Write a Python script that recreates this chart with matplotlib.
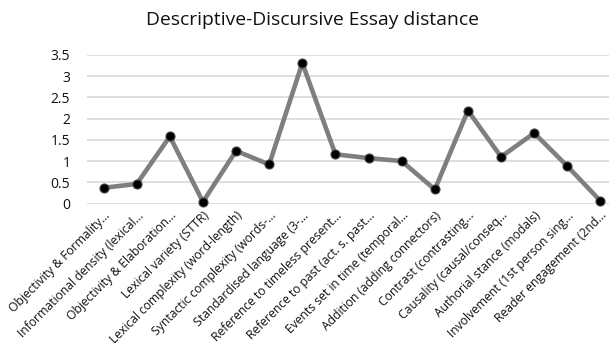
import matplotlib
matplotlib.use("Agg")
import matplotlib.pyplot as plt

categories = [
    "Objectivity & Formality...",
    "Informational density (lexical...",
    "Objectivity & Elaboration...",
    "Lexical variety (STTR)",
    "Lexical complexity (word-length)",
    "Syntactic complexity (words-...",
    "Standardised language (3-...",
    "Reference to timeless present...",
    "Reference to past (act. s. past...",
    "Events set in time (temporal...",
    "Addition (adding connectors)",
    "Contrast (contrasting...",
    "Causality (causal/conseq...",
    "Authorial stance (modals)",
    "Involvement (1st person sing...",
    "Reader engagement (2nd...",
]
values = [0.37, 0.46, 1.58, 0.04, 1.24, 0.92, 3.31, 1.16, 1.07, 1.0,
          0.33, 2.19, 1.10, 1.66, 0.88, 0.06]
yticks = [0, 0.5, 1, 1.5, 2, 2.5, 3, 3.5]
ytick_labels = ["0", "0.5", "1", "1.5", "2", "2.5", "3", "3.5"]
title = "Descriptive-Discursive Essay distance"

plt.rcParams['font.family'] = ['Open Sans', 'DejaVu Sans']

fig = plt.figure(figsize=(6.09, 3.57), dpi=100)
ax = fig.add_axes([87/609, 1 - 203.5/357, (617-87)/609, (203.5-55)/357])

x = list(range(len(categories)))
ax.plot(x, values, color="#7f7f7f", lw=3.3, marker="o", markersize=6.5,
        markerfacecolor="black", markeredgecolor="#444444", markeredgewidth=0.8,
        zorder=3, clip_on=False)

ax.set_xlim(-0.5, len(categories) - 0.5)
ax.set_ylim(0, 3.5)
ax.set_yticks(yticks)
ax.set_yticklabels(ytick_labels, fontsize=10, color="#111111")
ax.set_xticks(x)
ax.set_xticklabels(categories, rotation=45, ha="right", rotation_mode="anchor",
                   fontsize=8.7, color="#111111")
ax.tick_params(axis="both", length=0)
ax.tick_params(axis="y", pad=12)
ax.tick_params(axis="x", pad=4)
ax.grid(axis="y", color="#d9d9d9", lw=1.2)
ax.set_axisbelow(True)
for s in ax.spines.values():
    s.set_visible(False)

fig.text(312/609, 1 - 20/357, title, ha="center", va="center", fontsize=13.9, color="#111111")

fig.savefig("out.png", dpi=100)
